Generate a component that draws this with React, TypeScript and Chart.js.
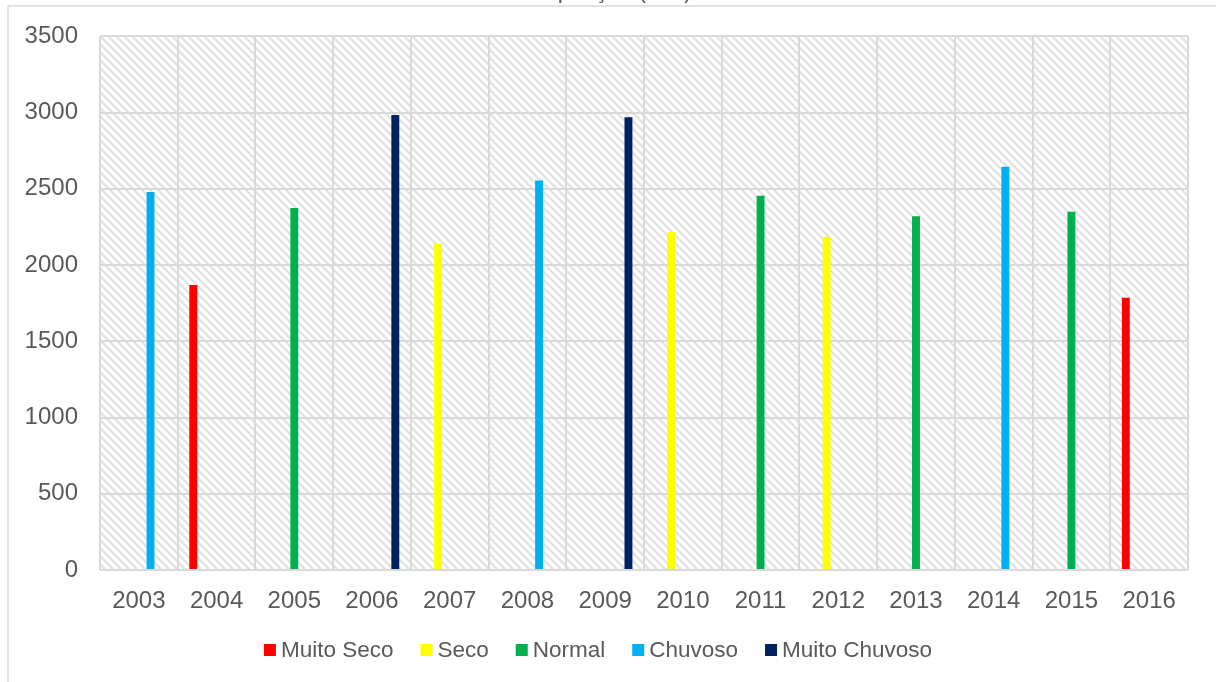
import { useEffect, useRef } from "react";
import { Chart, registerables } from "chart.js";

Chart.register(...registerables);

// Annual rainfall classified by year type
const years = ["2003", "2004", "2005", "2006", "2007", "2008", "2009", "2010", "2011", "2012", "2013", "2014", "2015", "2016"];
const muitoSeco = [null, 1870, null, null, null, null, null, null, null, null, null, null, null, 1785];
const seco = [null, null, null, null, 2140, null, null, 2215, null, 2185, null, null, null, null];
const normal = [null, null, 2375, null, null, null, null, null, 2455, null, 2320, null, 2350, null];
const chuvoso = [2480, null, null, null, null, 2555, null, null, null, null, null, 2645, null, null];
const muitoChuvoso = [null, null, null, 2985, null, null, 2970, null, null, null, null, null, null, null];
const yTicks = [0, 500, 1000, 1500, 2000, 2500, 3000, 3500];

const seriesNames = ["Muito Seco", "Seco", "Normal", "Chuvoso", "Muito Chuvoso"];
const seriesColors = ["#ff0000", "#ffff00", "#00b050", "#00b0f0", "#002060"];
const titleText = "Precipitação (mm)";

const FONT = "'Liberation Sans', Arial, sans-serif";
const TEXT_COLOR = "#595959";
const GRID_COLOR = "#d9d9d9";

function makeHatch(): CanvasPattern | string {
  const tile = document.createElement("canvas");
  tile.width = 8;
  tile.height = 8;
  const t = tile.getContext("2d");
  if (!t) return "#ffffff";
  t.fillStyle = "#ffffff";
  t.fillRect(0, 0, 8, 8);
  t.strokeStyle = "#e3e3e3";
  t.lineWidth = 2.4;
  for (const c of [-8, 0, 8]) {
    t.beginPath();
    t.moveTo(-4, -4 + c);
    t.lineTo(12, 12 + c);
    t.stroke();
  }
  const p = t.createPattern(tile, "repeat");
  return p || "#ffffff";
}

const decorPlugin = {
  id: "decor",
  beforeDraw(chart: any) {
    const { ctx, chartArea } = chart;
    ctx.save();
    // outer frame
    ctx.strokeStyle = GRID_COLOR;
    ctx.lineWidth = 1.5;
    ctx.beginPath();
    ctx.moveTo(8, chart.height + 2);
    ctx.lineTo(8, 6);
    ctx.lineTo(chart.width + 2, 6);
    ctx.stroke();
    // hatched plot background
    ctx.fillStyle = makeHatch();
    ctx.fillRect(chartArea.left, chartArea.top, chartArea.right - chartArea.left, chartArea.bottom - chartArea.top);
    ctx.restore();
  },
  afterDraw(chart: any) {
    const { ctx } = chart;
    ctx.save();
    ctx.font = `23px ${FONT}`;
    ctx.fillStyle = TEXT_COLOR;
    // title, mostly above the top edge
    ctx.textAlign = "right";
    ctx.textBaseline = "alphabetic";
    ctx.fillText(titleText, 692, -2);

    // legend
    ctx.font = `22.5px ${FONT}`;
    const box = 12;
    const gapText = 5;
    const gapItem = 27;
    const widths = chart.data.datasets.map((d: any) => ctx.measureText(d.label).width);
    const total = widths.reduce((a: number, w: number) => a + box + gapText + w, 0) + gapItem * (widths.length - 1);
    let x = 598 - total / 2;
    const yMid = 650;
    ctx.textAlign = "left";
    ctx.textBaseline = "middle";
    chart.data.datasets.forEach((d: any, i: number) => {
      ctx.fillStyle = d.backgroundColor;
      ctx.fillRect(x, yMid - box / 2, box, box);
      x += box + gapText;
      ctx.fillStyle = TEXT_COLOR;
      ctx.fillText(d.label, x, yMid + 1);
      x += widths[i] + gapItem;
    });
    ctx.restore();
  },
};

export default function App() {
  const ref = useRef<HTMLCanvasElement | null>(null);

  useEffect(() => {
    if (!ref.current) return;
    const seriesData = [muitoSeco, seco, normal, chuvoso, muitoChuvoso];
    const chart = new Chart(ref.current, {
      type: "bar",
      data: {
        labels: years,
        datasets: seriesNames.map((name, i) => ({
          label: name,
          data: seriesData[i],
          backgroundColor: seriesColors[i],
          borderWidth: 0,
          categoryPercentage: 0.75,
          barPercentage: 0.68,
        })),
      },
      options: {
        responsive: false,
        animation: false,
        devicePixelRatio: 1,
        layout: { padding: { left: 0, right: 28, top: 35, bottom: 62 } },
        plugins: {
          legend: { display: false },
          title: { display: false },
          tooltip: { enabled: false },
        },
        scales: {
          x: {
            grid: { color: GRID_COLOR, lineWidth: 2, drawTicks: false, offset: true },
            border: { display: false },
            ticks: { color: TEXT_COLOR, font: { family: FONT, size: 24 }, padding: 17, maxRotation: 0, autoSkip: false },
            afterFit(scale: any) {
              scale.height = 50;
            },
          },
          y: {
            min: 0,
            max: 3500,
            grid: { color: GRID_COLOR, lineWidth: 2, drawTicks: false },
            border: { display: false },
            afterBuildTicks(scale: any) {
              scale.ticks = yTicks.map((v) => ({ value: v }));
            },
            ticks: {
              color: TEXT_COLOR,
              font: { family: FONT, size: 24 },
              padding: 22,
              callback: (v: any) => String(v),
            },
            afterFit(scale: any) {
              scale.width = 100;
            },
          },
        },
      },
      plugins: [decorPlugin],
    });
    return () => chart.destroy();
  }, []);

  return (
    <canvas
      ref={ref}
      width={1216}
      height={682}
      style={{ position: "fixed", left: 0, top: 0, width: 1216, height: 682, background: "#ffffff" }}
    />
  );
}
